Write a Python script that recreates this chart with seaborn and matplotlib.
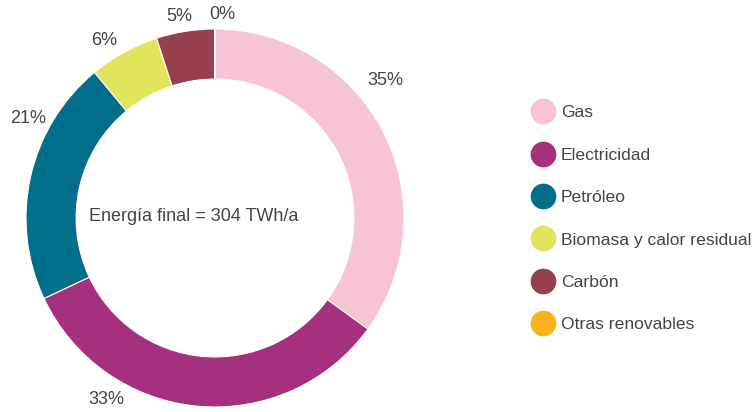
import matplotlib
matplotlib.use("Agg")
import matplotlib.pyplot as plt
import seaborn as sns
import numpy as np
from matplotlib.lines import Line2D

# data
categories = ["Gas", "Electricidad", "Petróleo", "Biomasa y calor residual",
              "Carbón", "Otras renovables"]
shares = [35, 33, 21, 6, 5, 0.0001]
share_labels = ["35%", "33%", "21%", "6%", "5%", "0%"]
colors = ["#F7C4D2", "#A4307E", "#016F89", "#E1E55B", "#953F4F", "#FBB21D"]
center_text = "Energía final = 304 TWh/a"

# where the percentage labels sit around the ring (layout only)
label_angles = [39, 239, 152, 122, 100, 88]
label_radius = [1.16, 1.12, 1.12, 1.11, 1.08, 1.08]

sns.set_theme(style="white")
plt.rcParams["font.family"] = ["Liberation Sans", "DejaVu Sans"]
text_color = "#444444"
palette = sns.color_palette(colors)

fig = plt.figure(figsize=(7.56, 4.12), dpi=100)
ax = fig.add_axes([26 / 756, 5 / 412, 378 / 756, 378 / 412])

wedges, _ = ax.pie(
    shares, colors=palette, startangle=90, counterclock=False,
    wedgeprops=dict(width=0.265, edgecolor="white", linewidth=0.8),
)
ax.set_xlim(-1, 1)
ax.set_ylim(-1, 1)
ax.set_aspect("equal")
ax.axis("off")

for lab, ang, r in zip(share_labels, label_angles, label_radius):
    a = np.deg2rad(ang)
    ax.text(r * np.cos(a), r * np.sin(a), lab, ha="center", va="center",
            fontsize=13, color=text_color, clip_on=False)

ax.text(-0.111, 0.01, center_text, ha="center", va="center",
        fontsize=13, color=text_color)

handles = [Line2D([], [], marker="o", linestyle="none", markersize=17.5,
                  markerfacecolor=c, markeredgecolor=c) for c in palette]
fig.legend(handles, categories, loc="center left", bbox_to_anchor=(0.698, 0.469),
           frameon=False, fontsize=12.6, labelcolor=text_color,
           handlelength=1.0, handletextpad=0.5, labelspacing=1.55,
           borderaxespad=0)

fig.savefig("out.png", dpi=100, facecolor="white")
